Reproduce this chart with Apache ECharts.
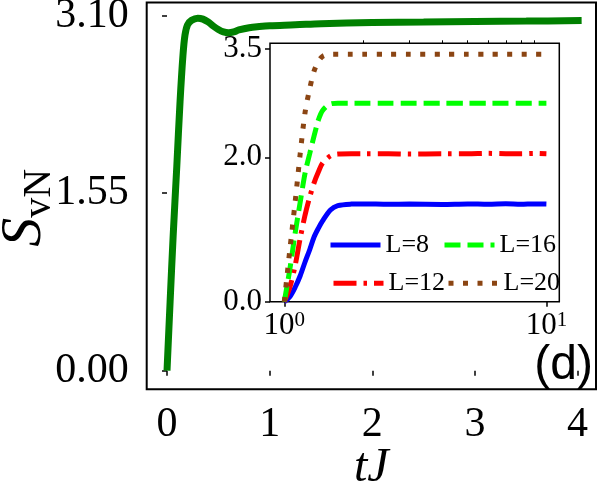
<!DOCTYPE html>
<html>
<head>
<meta charset="utf-8">
<script src="https://cdn.jsdelivr.net/npm/echarts@6/dist/echarts.min.js"></script>
<style>html,body{margin:0;padding:0;background:#fff}#c{width:599px;height:485px}</style>
</head>
<body>
<div id="c"></div>
<script>
// Main panel data
var mainT = [0, 0.03, 0.06, 0.095, 0.127, 0.155, 0.175, 0.2, 0.24, 0.3, 0.35, 0.4, 0.45, 0.5, 0.55, 0.6, 0.65, 0.7, 0.8, 0.9, 1.0, 1.25, 1.5, 2.0, 2.5, 3.0, 3.5, 4.04];
var mainS = [0, 0.6, 1.18, 1.78, 2.35, 2.75, 2.93, 3.02, 3.06, 3.078, 3.07, 3.045, 3.01, 2.98, 2.958, 2.95, 2.958, 2.975, 2.995, 3.005, 3.012, 3.02, 3.03, 3.04, 3.045, 3.05, 3.053, 3.057];
var mainYTicks = [0, 1.55, 3.10];
var mainXTicks = [0, 1, 2, 3, 4];

// Inset data (log time axis)
var insetX = [1, 1.05, 1.1, 1.15, 1.2, 1.25, 1.3, 1.35, 1.4, 1.5, 1.6, 1.8, 2, 2.5, 3, 4, 5, 6, 7, 8, 9, 10];
var L8  = [0, 0.07, 0.2, 0.36, 0.55, 0.72, 0.9, 1.02, 1.12, 1.27, 1.33, 1.352, 1.355, 1.35, 1.352, 1.348, 1.355, 1.35, 1.356, 1.35, 1.355, 1.352];
var L12 = [0, 0.2, 0.5, 0.88, 1.2, 1.45, 1.65, 1.8, 1.92, 2.02, 2.045, 2.05, 2.05, 2.05, 2.045, 2.05, 2.05, 2.055, 2.05, 2.05, 2.055, 2.05];
var L16 = [0, 0.45, 0.95, 1.38, 1.78, 2.05, 2.3, 2.52, 2.65, 2.74, 2.75, 2.75, 2.75, 2.75, 2.75, 2.75, 2.75, 2.75, 2.75, 2.75, 2.75, 2.75];
var L20 = [0, 0.72, 1.38, 2.05, 2.62, 2.95, 3.2, 3.33, 3.4, 3.43, 3.43, 3.43, 3.43, 3.43, 3.43, 3.43, 3.43, 3.43, 3.43, 3.43, 3.43, 3.43];
var insetYTicks = [0, 2.0, 3.5];
var insetXMajor = [1, 10];
var insetXMinor = [2, 3, 4, 5, 6, 7, 8, 9];
var names = ['L=8', 'L=12', 'L=16', 'L=20'];

function zip(xs, ys) { return xs.map(function (x, i) { return [x, ys[i]]; }); }

var SERIF = 'Liberation Serif';
var chart = echarts.init(document.getElementById('c'), null, { renderer: 'canvas' });

var tickStyle = { show: true, length: 5, lineStyle: { color: '#000', width: 1.5 } };

function legendAt(name, left, top) {
  return {
    data: [name], left: left, top: top, padding: 0, itemWidth: 50, itemHeight: 14,
    selectedMode: false,
    itemStyle: { opacity: 0 },
    lineStyle: { width: 5, type: 'inherit', cap: 'butt' },
    textStyle: { fontFamily: SERIF, fontSize: 26, color: '#000', lineHeight: 26 }
  };
}

var option = {
  backgroundColor: '#fff',
  animation: false,
  grid: [
    { left: 146.7, right: 3, top: 2.5, bottom: 95.7, outerBoundsMode: 'none', containLabel: false,
      show: true, borderColor: '#000', borderWidth: 2, backgroundColor: 'transparent' },
    { left: 270, right: 39.7, top: 43.3, bottom: 183.3, outerBoundsMode: 'none', containLabel: false,
      show: true, borderColor: '#000', borderWidth: 1.5, backgroundColor: '#fff', z: 3 }
  ],
  xAxis: [
    {
      gridIndex: 0, type: 'value', min: -0.198, max: 4.18,
      axisLine: { show: false }, splitLine: { show: false },
      axisTick: Object.assign({ customValues: mainXTicks }, tickStyle),
      axisLabel: { customValues: mainXTicks, fontFamily: SERIF, fontSize: 42, color: '#000', margin: 15 },
      name: 'tJ', nameLocation: 'middle', nameGap: 55, nameMoveOverlap: false,
      nameTextStyle: { fontFamily: SERIF, fontStyle: 'italic', fontSize: 48, color: '#000' }
    },
    {
      gridIndex: 1, type: 'log', min: 0.882, max: 11.2, z: 5,
      axisLine: { show: false }, splitLine: { show: false },
      axisTick: Object.assign({ customValues: insetXMajor }, tickStyle),
      axisLabel: {
        customValues: insetXMajor, margin: 8, color: '#000',
        formatter: function (v) { return '{b|10}{s|' + Math.round(Math.log10(v)) + '}'; },
        rich: {
          b: { fontFamily: SERIF, fontSize: 31, color: '#000' },
          s: { fontFamily: SERIF, fontSize: 21, color: '#000', verticalAlign: 'top', padding: [0, 0, 12, 0] }
        }
      }
    },
    {
      gridIndex: 1, type: 'log', min: 0.882, max: 11.2, z: 5,
      axisLine: { show: false }, splitLine: { show: false },
      axisTick: { show: true, customValues: insetXMinor, length: 3, lineStyle: { color: '#000', width: 1 } },
      axisLabel: { show: false }
    }
  ],
  yAxis: [
    {
      gridIndex: 0, type: 'value', min: -0.163, max: 3.215,
      axisLine: { show: false }, splitLine: { show: false },
      axisTick: Object.assign({ customValues: mainYTicks }, tickStyle),
      axisLabel: { customValues: mainYTicks, fontFamily: SERIF, fontSize: 42, color: '#000', margin: 18,
        formatter: function (v) { return v.toFixed(2); } },
      name: '{s|S}{sub|vN}', nameLocation: 'middle', nameGap: 87, nameRotate: 90, nameMoveOverlap: false,
      nameTextStyle: {
        padding: [0, 24, 0, 0],
        rich: {
          s: { fontFamily: SERIF, fontStyle: 'italic', fontSize: 58, color: '#000', verticalAlign: 'top', padding: [0, 0, 6, 0] },
          sub: { fontFamily: SERIF, fontSize: 40, color: '#000', verticalAlign: 'bottom' }
        }
      }
    },
    {
      gridIndex: 1, type: 'value', min: 0, max: 3.58, z: 5,
      axisLine: { show: false }, splitLine: { show: false },
      axisTick: Object.assign({ customValues: insetYTicks }, tickStyle),
      axisLabel: { customValues: insetYTicks, fontFamily: SERIF, fontSize: 31, color: '#000', margin: 8,
        formatter: function (v) { return v.toFixed(1); } }
    }
  ],
  legend: [
    legendAt('L=8', 328, 232),
    legendAt('L=16', 442, 232),
    legendAt('L=12', 331, 270.3),
    legendAt('L=20', 446, 270.3)
  ],
  graphic: [
    { type: 'text', x: 593, y: 366, z: 10,
      style: { text: '(d)', font: '48px "Liberation Sans"', fill: '#000', align: 'right', verticalAlign: 'middle' } }
  ],
  series: [
    { type: 'line', name: 'main', xAxisIndex: 0, yAxisIndex: 0, data: zip(mainT, mainS), symbol: 'none', smooth: 0.35,
      lineStyle: { color: '#008000', width: 7 }, z: 2 },
    { type: 'line', name: 'L=8', xAxisIndex: 1, yAxisIndex: 1, data: zip(insetX, L8), symbol: 'none', smooth: 0.3,
      lineStyle: { color: '#0000ff', width: 5 }, itemStyle: { color: '#0000ff' }, z: 6 },
    { type: 'line', name: 'L=12', xAxisIndex: 1, yAxisIndex: 1, data: zip(insetX, L12), symbol: 'none', smooth: 0.3,
      lineStyle: { color: '#ff0000', width: 5, type: [23, 7, 3.5, 7] }, itemStyle: { color: '#ff0000' }, z: 6 },
    { type: 'line', name: 'L=16', xAxisIndex: 1, yAxisIndex: 1, data: zip(insetX, L16), symbol: 'none', smooth: 0.3,
      lineStyle: { color: '#00ff00', width: 5, type: [16, 7] }, itemStyle: { color: '#00ff00' }, z: 6 },
    { type: 'line', name: 'L=20', xAxisIndex: 1, yAxisIndex: 1, data: zip(insetX, L20), symbol: 'none', smooth: 0.3,
      lineStyle: { color: '#8b4513', width: 5, type: [5, 9.5] }, itemStyle: { color: '#8b4513' }, z: 6 }
  ]
};
chart.setOption(option);
</script>
</body>
</html>
